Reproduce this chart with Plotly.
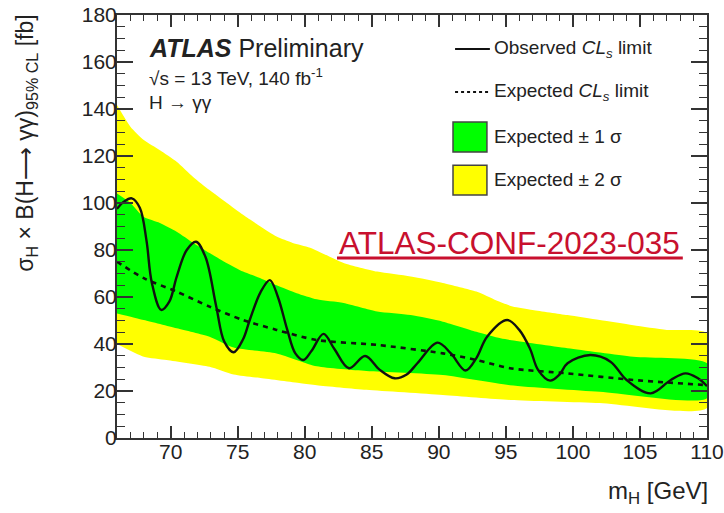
import plotly.graph_objects as go

# Higgs mass points (GeV) and 95% CL upper limits on sigma x BR (fb)
obs_mass = [66.0, 66.5, 67.1, 67.7, 68.2, 68.6, 69.3, 69.9, 70.45, 71.2, 71.9, 72.6,
            73.4, 74.0, 74.7, 75.4, 75.9, 76.7, 77.4, 78.0, 78.7, 79.3, 79.9, 80.5,
            81.4, 82.2, 83.3, 84.5, 85.6, 86.7, 87.6, 88.4, 89.9, 90.9, 92.0, 92.8,
            93.6, 95.1, 96.0, 96.8, 97.4, 98.3, 99.0, 99.6, 101.3, 102.8, 104.0,
            105.8, 107.3, 108.4, 109.3, 110.0]
obs_limit = [97.5, 100.5, 102.0, 98.0, 84.0, 66.0, 54.5, 58.0, 68.6, 80.0, 83.5, 77.0,
             56.0, 41.0, 36.5, 42.0, 50.2, 62.0, 67.2, 60.0, 46.0, 36.0, 33.2, 37.0,
             44.3, 38.0, 29.7, 34.9, 29.0, 25.4, 27.0, 31.8, 40.6, 36.0, 28.7, 34.0,
             43.1, 50.2, 46.0, 38.0, 29.0, 24.4, 27.0, 31.8, 35.3, 32.5, 24.7,
             19.0, 24.7, 27.5, 25.5, 22.1]

exp_mass = [66.0, 68.0, 70.45, 72.9, 75.4, 77.9, 80.9, 85.4, 90.3, 92.8, 95.3, 99.6, 104.5, 110.0]
exp_limit = [75.0, 68.0, 62.3, 55.9, 50.2, 46.0, 41.7, 39.6, 36.0, 33.2, 29.7, 27.5, 24.7, 22.5]

p2_mass = [66.0, 67.0, 68.0, 69.2, 70.45, 71.7, 72.9, 74.2, 75.4, 76.7, 77.9, 79.1, 80.4,
           82.9, 85.4, 87.9, 90.3, 92.8, 94.3, 95.5, 97.0, 99.6, 102.0, 104.5, 107.0, 110.0]
p2_limit = [141.7, 132.5, 126.8, 122.5, 117.6, 111.0, 105.5, 100.0, 95.0, 90.0, 85.7, 83.0, 81.0,
            74.5, 70.8, 68.7, 66.0, 62.3, 58.5, 56.0, 54.5, 52.3, 50.2, 48.0, 46.0, 44.5]
m2_mass = [66.0, 68.0, 69.7, 72.9, 74.7, 76.7, 79.7, 80.9, 84.6, 90.3, 95.3, 102.0, 110.0]
m2_limit = [40.0, 34.6, 33.2, 30.3, 27.0, 25.5, 23.3, 22.5, 20.5, 18.3, 16.2, 14.9, 12.8]

p1_mass = [66.0, 67.0, 68.0, 69.2, 70.45, 71.7, 72.9, 74.2, 75.4, 76.7, 77.9, 79.4, 80.9,
           82.9, 85.4, 87.9, 90.3, 92.8, 94.6, 95.3, 99.6, 104.5, 110.0]
p1_limit = [104.0, 100.0, 94.0, 91.5, 87.8, 83.0, 78.7, 74.4, 70.8, 68.0, 65.0, 61.6, 59.0,
            57.4, 53.8, 52.3, 49.5, 45.2, 42.4, 41.7, 38.2, 34.6, 31.8]
m1_mass = [66.0, 68.0, 70.45, 72.9, 74.7, 77.9, 80.9, 84.6, 90.3, 95.3, 102.0, 110.0]
m1_limit = [53.0, 50.2, 46.7, 43.1, 38.5, 36.0, 30.5, 28.5, 26.8, 22.5, 19.7, 16.9]

x_ticks = [70, 75, 80, 85, 90, 95, 100, 105, 110]
y_ticks = [0, 20, 40, 60, 80, 100, 120, 140, 160, 180]

FONT = "Liberation Sans, Arial, sans-serif"
INK = "#222222"
YELLOW = "#ffff00"
GREEN = "#00ff00"

fig = go.Figure()

# +-2 sigma band
fig.add_trace(go.Scatter(
    x=p2_mass + m2_mass[::-1], y=p2_limit + m2_limit[::-1],
    fill="toself", fillcolor=YELLOW, line=dict(width=0, shape="spline", smoothing=0.6),
    mode="lines", hoverinfo="skip", showlegend=False))
# +-1 sigma band
fig.add_trace(go.Scatter(
    x=p1_mass + m1_mass[::-1], y=p1_limit + m1_limit[::-1],
    fill="toself", fillcolor=GREEN, line=dict(width=0, shape="spline", smoothing=0.6),
    mode="lines", hoverinfo="skip", showlegend=False))
# expected limit
fig.add_trace(go.Scatter(
    x=exp_mass, y=exp_limit, mode="lines",
    line=dict(color="#111111", width=2.6, dash="5px,5px", shape="spline", smoothing=0.8),
    showlegend=False))
# observed limit
fig.add_trace(go.Scatter(
    x=obs_mass, y=obs_limit, mode="lines",
    line=dict(color="#111111", width=2.4, shape="spline", smoothing=1.0),
    showlegend=False))

axis_common = dict(
    showline=True, linecolor="#333333", linewidth=2, mirror="ticks",
    ticks="inside", tickcolor="#333333", tickwidth=1.5,
    showgrid=False, zeroline=False, automargin=False,
    tickfont=dict(family=FONT, size=21, color=INK),
)

fig.update_xaxes(range=[66, 110], tickvals=x_ticks, ticklen=12,
                 minor=dict(ticks="inside", dtick=1, tick0=66, ticklen=6,
                            tickcolor="#333333", tickwidth=1.2),
                 ticklabelstandoff=-6, **axis_common)
fig.update_yaxes(range=[0, 180], tickvals=y_ticks, ticklen=16,
                 minor=dict(ticks="inside", dtick=5, tick0=0, ticklen=8,
                            tickcolor="#333333", tickwidth=1.2),
                 ticklabelstandoff=-6, **axis_common)

annotations = []
shapes = []

def text(x, y, s, size, xanchor="left", yanchor="middle", color=INK, angle=0):
    annotations.append(dict(x=x, y=y, xref="paper", yref="paper", text=s, showarrow=False,
                            xanchor=xanchor, yanchor=yanchor, textangle=angle,
                            font=dict(family=FONT, size=size, color=color)))

# experiment label
text(0.050, 0.922, "<b><i>ATLAS</i></b> Preliminary", 25)
text(0.050, 0.853, "√s = 13 TeV, 140 fb<sup>-1</sup>", 19)
text(0.050, 0.792, "H → γγ", 19)

# legend
text(0.636, 0.9196, "Observed <i>CL</i><sub><i>s</i></sub> limit", 19)
text(0.636, 0.818, "Expected <i>CL</i><sub><i>s</i></sub> limit", 19)
text(0.636, 0.7116, "Expected ± 1 σ", 19)
text(0.636, 0.61, "Expected ± 2 σ", 19)
shapes.append(dict(type="line", xref="paper", yref="paper", x0=0.573, x1=0.632,
                   y0=0.9196, y1=0.9196, line=dict(color="#111111", width=2)))
shapes.append(dict(type="line", xref="paper", yref="paper", x0=0.573, x1=0.632,
                   y0=0.818, y1=0.818, line=dict(color="#111111", width=2, dash="3px,3px")))
shapes.append(dict(type="rect", xref="paper", yref="paper", x0=0.5695, x1=0.627,
                   y0=0.676, y1=0.747, fillcolor=GREEN, line=dict(color="#444444", width=1.5)))
shapes.append(dict(type="rect", xref="paper", yref="paper", x0=0.5695, x1=0.627,
                   y0=0.5745, y1=0.645, fillcolor=YELLOW, line=dict(color="#444444", width=1.5)))

# reference tag
text(0.666, 0.461, "ATLAS-CONF-2023-035", 31.5, xanchor="center", color="#c8102e")
shapes.append(dict(type="line", xref="paper", yref="paper", x0=0.3729, x1=0.959,
                   y0=0.4255, y1=0.4255, line=dict(color="#c8102e", width=3)))

# axis titles
text(-0.153, 1.006, "σ<sub>H</sub> × B(H⟶ γγ)<sub>95% CL</sub> [fb]", 23,
     xanchor="center", yanchor="top", angle=-90)
text(1.005, -0.13, "m<sub>H</sub> [GeV]", 24, xanchor="right")

fig.update_layout(
    width=724, height=513,
    margin=dict(l=117, r=17, t=15, b=75),
    paper_bgcolor="white", plot_bgcolor="white",
    annotations=annotations, shapes=shapes,
    showlegend=False,
)

fig.write_html("out.html")
